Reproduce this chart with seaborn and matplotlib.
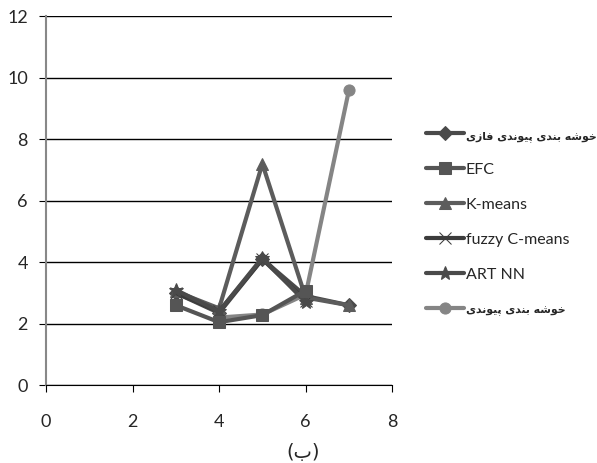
import matplotlib
matplotlib.use("Agg")
import matplotlib.pyplot as plt
import seaborn as sns
import pandas as pd

# data
x_vals = [3, 4, 5, 6, 7]
fuzzy_hier = [3.0, 2.35, 4.1, 2.9, 2.6]
efc = [2.6, 2.05, 2.28, 3.08, None]
kmeans = [3.05, 2.5, 7.2, 2.85, 2.6]
fuzzy_cmeans = [3.0, 2.4, 4.1, 2.75, None]
art_nn = [3.1, 2.4, 4.15, 2.7, None]
hier_x = [4, 5, 6, 7]
hier = [2.2, 2.3, 2.95, 9.6]

# arabic shaping table: isolated, final, initial, medial
FORMS = {
    'خ': ('\uFEA5', '\uFEA6', '\uFEA7', '\uFEA8'),
    'و': ('\uFEED', '\uFEEE', None, None),
    'ش': ('\uFEB5', '\uFEB6', '\uFEB7', '\uFEB8'),
    'ه': ('\uFEE9', '\uFEEA', '\uFEEB', '\uFEEC'),
    'ب': ('\uFE8F', '\uFE90', '\uFE91', '\uFE92'),
    'ن': ('\uFEE5', '\uFEE6', '\uFEE7', '\uFEE8'),
    'د': ('\uFEA9', '\uFEAA', None, None),
    'ی': ('\uFBFC', '\uFBFD', '\uFBFE', '\uFBFF'),
    'پ': ('\uFB56', '\uFB57', '\uFB58', '\uFB59'),
    'ف': ('\uFED1', '\uFED2', '\uFED3', '\uFED4'),
    'ا': ('\uFE8D', '\uFE8E', None, None),
    'ز': ('\uFEAF', '\uFEB0', None, None),
}

def shape(txt):
    out = []
    for i, c in enumerate(txt):
        if c not in FORMS:
            out.append(c)
            continue
        prev = txt[i - 1] if i > 0 else ''
        nxt = txt[i + 1] if i + 1 < len(txt) else ''
        link_prev = prev in FORMS and FORMS[prev][2] is not None
        link_next = nxt in FORMS and FORMS[c][2] is not None
        f = FORMS[c]
        if link_prev and link_next:
            out.append(f[3])
        elif link_prev:
            out.append(f[1])
        elif link_next:
            out.append(f[2])
        else:
            out.append(f[0])
    return ''.join(out[::-1])

lab_fuzzy_hier = 'خوشه بندی پیوندی فازی'
lab_hier = 'خوشه بندی پیوندی'
caption = 'ب'

sns.set_style("white")
plt.rcParams['font.family'] = ['Lato', 'DejaVu Sans']

fig = plt.figure(figsize=(5.97, 4.63), dpi=100)
ax = fig.add_axes([0.077, 0.168, 0.58, 0.797])

def draw(xs, ys, marker, color, ms, label, z):
    d = pd.DataFrame({'x': xs, 'y': ys}).dropna()
    sns.lineplot(data=d, x='x', y='y', ax=ax, color=color, lw=3, marker=marker,
                 markersize=ms, markeredgecolor=color, label=label, legend=False,
                 zorder=z)
    return ax.lines[-1]

h6 = draw(hier_x, hier, 'o', '#858585', 8, shape(lab_hier), 2)
h1 = draw(x_vals, fuzzy_hier, 'D', '#4a4a4a', 7, shape(lab_fuzzy_hier), 3)
h2 = draw(x_vals, efc, 's', '#555555', 9, 'EFC', 4)
h3 = draw(x_vals, kmeans, '^', '#5c5c5c', 9, 'K-means', 3)
h4 = draw(x_vals, fuzzy_cmeans, 'x', '#3c3c3c', 9, 'fuzzy C-means', 3)
h5 = draw(x_vals, art_nn, '*', '#4a4a4a', 10, 'ART NN', 3)

ax.set_xlim(0, 8)
ax.set_ylim(0, 12)
ax.set_xticks(range(0, 9, 2))
ax.set_yticks(range(0, 13, 2))
ax.set_xlabel('')
ax.set_ylabel('')
ax.yaxis.grid(True, color='black', lw=1)
ax.set_axisbelow(True)
for s in ['top', 'right']:
    ax.spines[s].set_visible(False)
ax.spines['left'].set_color('#888888')
ax.spines['left'].set_linewidth(1.5)
ax.spines['bottom'].set_color('black')
ax.tick_params(axis='x', bottom=True, length=5, color='black', labelsize=13, pad=16)
ax.tick_params(axis='y', left=True, length=5, color='black', labelsize=13, pad=8)

fa_font = {'family': 'DejaVu Sans', 'weight': 'bold', 'size': 7.8}
hands = [h1, h2, h3, h4, h5, h6]
leg = fig.legend(handles=hands, labels=[h.get_label() for h in hands],
                 loc='upper left', bbox_to_anchor=(0.703, 0.738),
                 frameon=False, fontsize=11.5, handlelength=2.4, handletextpad=0.08,
                 labelspacing=1.3, borderaxespad=0)
for t in leg.get_texts():
    if not t.get_text().isascii():
        t.set_fontproperties(fa_font)

fig.text(303 / 597, 0.022, '(' + shape(caption) + ')', ha='center', va='center',
         fontsize=14, family='DejaVu Sans')

fig.savefig('out.png', dpi=100)
